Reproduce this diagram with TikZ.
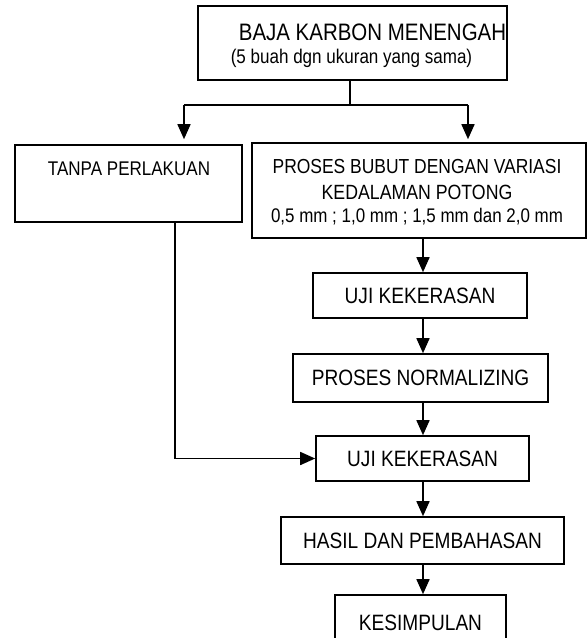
\documentclass[tikz,border=0pt]{standalone}
\usepackage{fontspec}
\setmainfont[FakeStretch=0.86]{Liberation Sans}
\usetikzlibrary{arrows.meta,calc}
\begin{document}
\begin{tikzpicture}[x=1pt,y=-1pt,
  box/.style={draw=black,line width=1.6pt,rectangle,inner sep=0pt},
  lbl/.style={inner sep=0pt,font=\fontsize{19.8pt}{23pt}\selectfont},
  big/.style={font=\fontsize{22.2pt}{26pt}\selectfont},
  conn/.style={line width=1.6pt},
  arr/.style={conn,-{Triangle[length=15pt,width=13pt]}}]
\useasboundingbox (0,0) rectangle (587,638);
\clip (0,0) rectangle (587,638);
% boxes
\node[box,minimum width=309pt,minimum height=74pt] (top) at (352.5,43) {};
\node[box,minimum width=227pt,minimum height=77pt] (left) at (128.5,183.5) {};
\node[box,minimum width=334pt,minimum height=95pt] (right) at (419,190.5) {};
\node[box,big,minimum width=214pt,minimum height=45pt] (uji1) at (420,295.5) {UJI KEKERASAN};
\node[box,big,minimum width=255pt,minimum height=48pt] (norm) at (420.5,378) {PROSES NORMALIZING};
\node[box,big,minimum width=213pt,minimum height=45pt] (uji2) at (422.5,458.5) {UJI KEKERASAN};
\node[box,big,minimum width=283pt,minimum height=47pt] (hasil) at (422.5,540.5) {HASIL DAN PEMBAHASAN};
\node[box,big,minimum width=171pt,minimum height=56pt] (kes) at (420.5,623) {KESIMPULAN};
% texts
\node[lbl,font=\fontsize{23.8pt}{27pt}\selectfont] (t1) at (372.5,32) {BAJA KARBON MENENGAH};
\node[lbl] (t2) at (351.5,58) {(5 buah dgn ukuran yang sama)};
\node[lbl] (l1) at (129,169) {TANPA PERLAKUAN};
\node[lbl,font=\fontsize{20.3pt}{23pt}\selectfont] (r1) at (417,167) {PROSES BUBUT DENGAN VARIASI};
\node[lbl,font=\fontsize{20.6pt}{23pt}\selectfont] (r2) at (417,192) {KEDALAMAN POTONG};
\node[lbl,font=\fontsize{19.7pt}{23pt}\selectfont] (r3) at (417,217) {0,5 mm ; 1,0 mm ; 1,5 mm dan 2,0 mm};
% connectors
\coordinate (jn) at (350,105);
\coordinate (jl) at (184,105);
\coordinate (jr) at (468,105);
\coordinate (lx) at (175,460);
\coordinate (sp) at (423,0);
\draw[conn] (top.south -| jn) -- (jn);
\draw[conn] (jl) -- (jr);
\draw[arr,shorten >=5pt] (jl) -- (jl |- left.north);
\draw[arr,shorten >=3pt] (jr) -- (jr |- right.north);
\draw[arr] (left.south -| lx) |- (uji2.west);
\draw[arr] (right.south -| sp) -- (uji1.north -| sp);
\draw[arr] (uji1.south -| sp) -- (norm.north -| sp);
\draw[arr] (norm.south -| sp) -- (uji2.north -| sp);
\draw[arr] (uji2.south -| sp) -- (hasil.north -| sp);
\draw[arr] (hasil.south -| sp) -- (kes.north -| sp);
\end{tikzpicture}
\end{document}
